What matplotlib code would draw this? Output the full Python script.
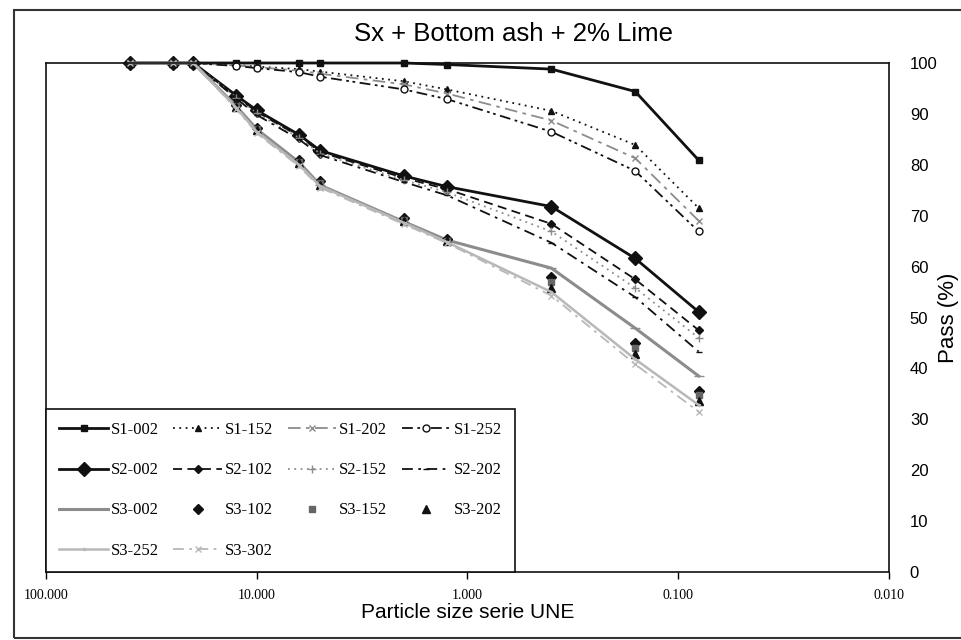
import matplotlib.pyplot as plt
from matplotlib.patches import Rectangle
from matplotlib.ticker import FixedLocator, NullLocator

# sieve sizes (mm), UNE series
sizes = [40, 25, 20, 12.5, 10, 6.3, 5, 2, 1.25, 0.4, 0.16, 0.08]

s1_002 = [100, 100, 100, 100, 100, 100, 100, 100, 99.7, 98.8, 94.4, 80.9]
s1_152 = [100, 100, 100, 99.6, 99.3, 98.8, 98.3, 96.4, 94.8, 90.6, 83.9, 71.5]
s1_202 = [100, 100, 100, 99.5, 99.2, 98.5, 97.9, 95.8, 94.0, 88.7, 81.3, 69.0]
s1_252 = [100, 100, 100, 99.4, 99.0, 98.2, 97.3, 94.8, 92.9, 86.5, 78.8, 66.9]

s2_002 = [100, 100, 100, 93.6, 90.7, 85.9, 82.8, 77.8, 75.7, 71.8, 61.6, 51.1]
s2_102 = [100, 100, 100, 93.4, 90.4, 85.6, 82.5, 77.4, 75.2, 68.4, 57.5, 47.5]
s2_152 = [100, 100, 100, 93.2, 90.1, 85.3, 82.2, 77.0, 74.6, 66.9, 55.8, 46.0]
s2_202 = [100, 100, 100, 93.0, 89.8, 85.0, 81.9, 76.6, 74.0, 64.7, 54.0, 43.3]

s3_002 = [100, 100, 100, 91.5, 87.0, 80.5, 76.0, 68.8, 65.2, 59.7, 47.9, 38.5]
s3_102 = [100, 100, 100, 91.8, 87.3, 81.0, 76.8, 69.6, 65.4, 57.9, 44.9, 35.6]
s3_152 = [100, 100, 100, 91.6, 87.0, 80.6, 76.4, 69.2, 65.1, 57.0, 44.0, 34.8]
s3_202 = [100, 100, 100, 91.4, 86.8, 80.3, 76.1, 68.9, 65.0, 55.8, 42.8, 33.6]
s3_252 = [100, 100, 100, 91.2, 86.5, 80.0, 75.8, 68.6, 64.8, 55.0, 41.8, 32.8]
s3_302 = [100, 100, 100, 91.0, 86.2, 79.7, 75.5, 68.3, 64.6, 54.3, 40.8, 31.5]

x_ticks = [100, 10, 1, 0.1, 0.01]
x_ticklabels = ['100.000', '10.000', '1.000', '0.100', '0.010']
y_ticks = list(range(0, 101, 10))

blk = '#111111'
gry = '#8c8c8c'
lgt = '#b8b8b8'

fig = plt.figure(figsize=(9.62, 6.4), dpi=100)
ax = fig.add_axes([46 / 962, 1 - 572 / 640, 843 / 962, 509 / 640])

kw = dict(clip_on=False)
h = {}
h['S1-002'], = ax.plot(sizes, s1_002, color=blk, lw=2, marker='s', ms=5, **kw)
h['S1-152'], = ax.plot(sizes, s1_152, color=blk, lw=1.3, ls=(0, (1, 2.5)), marker='^', ms=4.5, **kw)
h['S1-202'], = ax.plot(sizes, s1_202, color=gry, lw=1.3, ls=(0, (7, 3, 2, 3)), marker='x', ms=5, **kw)
h['S1-252'], = ax.plot(sizes, s1_252, color=blk, lw=1.3, ls=(0, (6, 2.5, 1.5, 2, 1.5, 2.5)),
                       marker='o', mfc='white', ms=5, **kw)

h['S2-002'], = ax.plot(sizes, s2_002, color=blk, lw=2, marker='D', ms=7, **kw)
h['S2-102'], = ax.plot(sizes, s2_102, color=blk, lw=1.3, ls=(0, (5, 3)), marker='D', ms=4.5, **kw)
h['S2-152'], = ax.plot(sizes, s2_152, color=gry, lw=1.3, ls=(0, (1, 2.5)), marker='+', ms=6, **kw)
h['S2-202'], = ax.plot(sizes, s2_202, color=blk, lw=1.3, ls=(0, (6, 3, 1.5, 3)), marker='_', ms=5, **kw)

h['S3-002'], = ax.plot(sizes, s3_002, color=gry, lw=2.2, marker='_', ms=7, **kw)
h['S3-102'], = ax.plot(sizes, s3_102, color=blk, ls='none', marker='D', ms=5, **kw)
h['S3-152'], = ax.plot(sizes, s3_152, color='#666666', ls='none', marker='s', ms=5, **kw)
h['S3-202'], = ax.plot(sizes, s3_202, color=blk, ls='none', marker='^', ms=6, **kw)
h['S3-252'], = ax.plot(sizes, s3_252, color=lgt, lw=1.8, marker='.', ms=3, **kw)
h['S3-302'], = ax.plot(sizes, s3_302, color=lgt, lw=1.3, ls=(0, (6, 3, 1.5, 3)), marker='x', ms=5, **kw)

ax.set_xscale('log')
ax.set_xlim(100, 0.01)
ax.set_ylim(0, 100)
ax.xaxis.set_major_locator(FixedLocator(x_ticks))
ax.xaxis.set_minor_locator(NullLocator())
ax.set_xticklabels(x_ticklabels, fontfamily='Liberation Serif', fontsize=10)
ax.tick_params(axis='x', direction='out', length=5, width=1, pad=7)

ax.yaxis.tick_right()
ax.yaxis.set_label_position('right')
ax.set_yticks(y_ticks)
ax.set_yticklabels([str(v) for v in y_ticks], fontfamily='Liberation Sans', fontsize=12)
ax.tick_params(axis='y', length=0, pad=15)

for s in ax.spines.values():
    s.set_linewidth(1.2)
    s.set_color(blk)

ax.set_xlabel('Particle size serie UNE', fontfamily='Liberation Sans', fontsize=15, labelpad=1)
ax.set_ylabel('Pass (%)', fontfamily='Liberation Sans', fontsize=16, labelpad=0)
fig.text(514 / 962, 1 - 34 / 640, 'Sx + Bottom ash + 2% Lime', ha='center', va='center',
         fontfamily='Liberation Sans', fontsize=18.5)

order = ['S1-002', 'S2-002', 'S3-002', 'S3-252',
         'S1-152', 'S2-102', 'S3-102', 'S3-302',
         'S1-202', 'S2-152', 'S3-152',
         'S1-252', 'S2-202', 'S3-202']
leg = ax.legend([h[k] for k in order], order, loc='lower left',
                bbox_to_anchor=(0, 0, 469 / 843, 1), mode='expand',
                borderaxespad=0, ncol=4, fancybox=False, framealpha=1, edgecolor=blk,
                prop={'family': 'Liberation Serif', 'size': 12}, handlelength=2.9,
                handletextpad=0.2, labelspacing=1.45, borderpad=0.8)
leg.get_frame().set_linewidth(1.2)

fig.patches.append(Rectangle((14 / 962, 2 / 640), 1.0, 1 - 12 / 640, transform=fig.transFigure,
                             fill=False, edgecolor='#333333', lw=1.5))

fig.savefig('out.png', dpi=100)
